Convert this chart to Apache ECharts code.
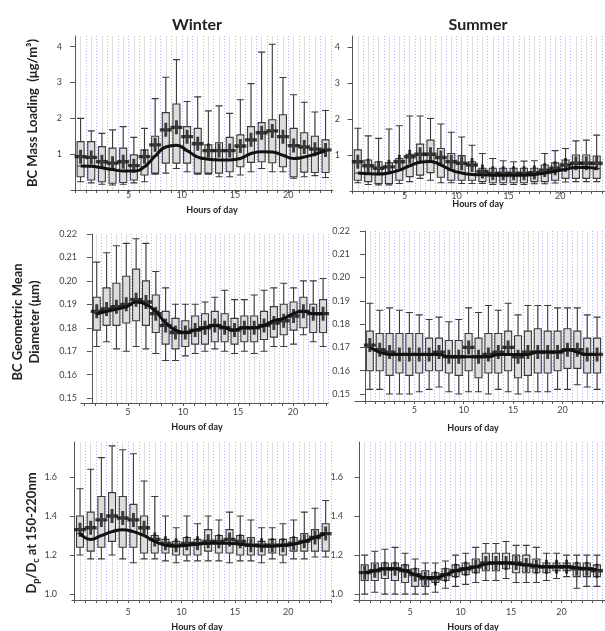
<!DOCTYPE html>
<html><head><meta charset="utf-8">
<script src="https://cdn.jsdelivr.net/npm/echarts@6/dist/echarts.min.js"></script>
<style>html,body{margin:0;padding:0;background:#fff}#c{width:605px;height:631px}</style>
</head><body><div id="c"></div>
<script>
// ---------- data ----------
const hours = [0.5,1.5,2.5,3.5,4.5,5.5,6.5,7.5,8.5,9.5,10.5,11.5,12.5,13.5,14.5,15.5,16.5,17.5,18.5,19.5,20.5,21.5,22.5,23.5];
const hourTicks = [0,1,2,3,4,5,6,7,8,9,10,11,12,13,14,15,16,17,18,19,20,21,22,23,24];
const hourLabels = [5,10,15,20];
const yTicksMass = [1,2,3,4];
const yTicksGmd = [0.15,0.16,0.17,0.18,0.19,0.20,0.21,0.22];
const yTicksRatio = [1.0,1.2,1.4,1.6];

// Winter BC mass loading
const wMassMax  = [2.0,1.65,1.58,1.68,1.77,1.47,1.72,2.55,3.15,3.64,2.47,2.6,2.21,2.35,2.14,2.52,2.97,3.85,4.07,3.14,2.66,2.45,2.18,2.22];
const wMassQ3   = [1.35,1.35,1.21,1.17,1.17,0.98,1.12,1.5,2.16,2.4,1.77,1.72,1.26,1.32,1.47,1.54,1.77,1.88,1.96,2.1,1.72,1.6,1.5,1.4];
const wMassMed  = [0.67,0.66,0.62,0.57,0.53,0.53,0.65,0.95,1.2,1.25,1.1,0.92,0.86,0.84,0.84,0.88,1.02,1.07,1.06,0.97,0.88,0.92,1.0,1.1];
const wMassQ1   = [0.37,0.28,0.23,0.19,0.21,0.28,0.42,0.47,0.75,0.75,0.75,0.47,0.47,0.47,0.51,0.65,0.77,0.79,0.76,0.65,0.37,0.5,0.49,0.49];
const wMassMin  = [0.23,0.2,0.16,0.14,0.16,0.2,0.23,0.44,0.47,0.6,0.51,0.44,0.44,0.37,0.37,0.42,0.51,0.6,0.51,0.51,0.33,0.37,0.4,0.35];
const wMassMean = [0.93,0.91,0.79,0.75,0.79,0.68,0.93,1.26,1.68,1.75,1.49,1.29,1.1,1.1,1.1,1.23,1.4,1.6,1.65,1.49,1.24,1.2,1.14,1.12];

// Summer BC mass loading
const sMassMax  = [1.74,1.53,1.46,1.72,1.81,2.08,2.08,2.01,1.86,1.63,1.5,1.27,1.04,0.9,0.84,0.81,0.83,0.84,1.04,1.12,1.18,1.39,1.41,1.55];
const sMassQ3   = [1.14,0.86,0.81,0.78,0.9,1.02,1.3,1.41,1.18,1.04,0.98,0.81,0.63,0.63,0.63,0.63,0.63,0.63,0.72,0.78,0.86,1.0,1.0,0.97];
const sMassMed  = [0.5,0.48,0.47,0.5,0.58,0.7,0.8,0.82,0.72,0.58,0.5,0.46,0.45,0.44,0.44,0.44,0.44,0.46,0.5,0.55,0.6,0.65,0.65,0.62];
const sMassQ1   = [0.3,0.26,0.21,0.21,0.3,0.4,0.44,0.51,0.38,0.3,0.3,0.3,0.26,0.23,0.23,0.23,0.23,0.26,0.26,0.3,0.35,0.35,0.35,0.35];
const sMassMin  = [0.23,0.18,0.17,0.17,0.21,0.26,0.35,0.3,0.23,0.23,0.21,0.21,0.21,0.18,0.18,0.18,0.18,0.2,0.2,0.22,0.25,0.26,0.26,0.26];
const sMassMean = [0.81,0.7,0.63,0.67,0.81,0.95,1.02,1.02,0.93,0.81,0.77,0.72,0.54,0.49,0.49,0.49,0.49,0.51,0.58,0.63,0.72,0.77,0.77,0.77];

// Winter BC geometric mean diameter (um)
const wGmdMax  = [0.208,0.212,0.215,0.216,0.218,0.216,0.204,0.197,0.19,0.19,0.19,0.191,0.193,0.196,0.192,0.192,0.194,0.196,0.197,0.199,0.197,0.2,0.2,0.201];
const wGmdQ3   = [0.193,0.197,0.199,0.202,0.205,0.2,0.194,0.187,0.184,0.183,0.185,0.186,0.187,0.186,0.184,0.185,0.185,0.187,0.189,0.19,0.191,0.193,0.19,0.192];
const wGmdMed  = [0.186,0.187,0.188,0.189,0.191,0.19,0.187,0.182,0.179,0.178,0.179,0.18,0.181,0.18,0.179,0.18,0.18,0.181,0.183,0.184,0.186,0.187,0.186,0.186];
const wGmdQ1   = [0.179,0.181,0.181,0.182,0.183,0.181,0.178,0.173,0.171,0.172,0.173,0.173,0.174,0.174,0.173,0.174,0.174,0.175,0.176,0.177,0.179,0.18,0.178,0.178];
const wGmdMin  = [0.172,0.174,0.171,0.17,0.172,0.171,0.169,0.166,0.166,0.168,0.169,0.17,0.171,0.17,0.169,0.17,0.169,0.17,0.172,0.172,0.173,0.177,0.174,0.172];
const wGmdMean = [0.187,0.188,0.189,0.19,0.192,0.191,0.186,0.181,0.178,0.178,0.179,0.18,0.181,0.18,0.179,0.18,0.18,0.181,0.182,0.183,0.185,0.187,0.186,0.186];

// Summer BC geometric mean diameter (um)
const sGmdMax  = [0.189,0.186,0.187,0.186,0.185,0.184,0.182,0.183,0.181,0.182,0.187,0.185,0.188,0.186,0.189,0.184,0.188,0.188,0.188,0.187,0.187,0.187,0.184,0.183];
const sGmdQ3   = [0.177,0.176,0.176,0.176,0.176,0.176,0.174,0.174,0.173,0.173,0.176,0.174,0.176,0.176,0.177,0.175,0.177,0.178,0.177,0.177,0.178,0.177,0.174,0.174];
const sGmdMed  = [0.17,0.168,0.167,0.167,0.167,0.167,0.167,0.167,0.166,0.166,0.166,0.166,0.166,0.167,0.167,0.167,0.167,0.168,0.168,0.168,0.169,0.168,0.167,0.167];
const sGmdQ1   = [0.16,0.16,0.158,0.159,0.158,0.159,0.16,0.16,0.159,0.158,0.16,0.157,0.159,0.159,0.16,0.157,0.158,0.159,0.159,0.16,0.161,0.161,0.159,0.159];
const sGmdMin  = [0.152,0.152,0.15,0.15,0.15,0.151,0.152,0.153,0.151,0.15,0.151,0.151,0.15,0.152,0.151,0.15,0.151,0.151,0.151,0.152,0.152,0.154,0.153,0.152];
const sGmdMean = [0.171,0.169,0.168,0.167,0.167,0.167,0.167,0.168,0.166,0.166,0.17,0.166,0.167,0.168,0.17,0.166,0.168,0.168,0.168,0.168,0.169,0.169,0.167,0.167];

// Winter Dp/Dc at 150-220 nm
const wRatMax  = [1.54,1.64,1.7,1.76,1.74,1.72,1.58,1.5,1.4,1.34,1.4,1.36,1.4,1.38,1.42,1.4,1.38,1.34,1.34,1.36,1.38,1.42,1.44,1.48];
const wRatQ3   = [1.4,1.42,1.5,1.52,1.5,1.46,1.4,1.3,1.28,1.27,1.29,1.28,1.33,1.3,1.33,1.3,1.29,1.27,1.28,1.28,1.29,1.31,1.33,1.36];
const wRatMed  = [1.31,1.28,1.3,1.32,1.33,1.32,1.3,1.27,1.25,1.245,1.25,1.255,1.26,1.26,1.26,1.255,1.25,1.245,1.245,1.25,1.255,1.27,1.29,1.31];
const wRatQ1   = [1.24,1.22,1.24,1.27,1.24,1.24,1.21,1.21,1.21,1.2,1.2,1.2,1.22,1.21,1.21,1.2,1.2,1.2,1.21,1.2,1.22,1.22,1.22,1.22];
const wRatMin  = [1.2,1.18,1.18,1.2,1.18,1.16,1.18,1.18,1.17,1.16,1.17,1.17,1.17,1.17,1.16,1.17,1.17,1.16,1.18,1.16,1.18,1.18,1.19,1.19];
const wRatMean = [1.33,1.34,1.38,1.4,1.39,1.38,1.34,1.28,1.26,1.25,1.26,1.26,1.27,1.27,1.28,1.27,1.25,1.25,1.25,1.25,1.26,1.27,1.29,1.31];

// Summer Dp/Dc at 150-220 nm
const sRatMax  = [1.2,1.22,1.23,1.24,1.21,1.18,1.16,1.16,1.17,1.2,1.21,1.24,1.26,1.26,1.27,1.25,1.25,1.24,1.21,1.21,1.2,1.2,1.2,1.2];
const sRatQ3   = [1.15,1.16,1.16,1.16,1.15,1.13,1.12,1.11,1.13,1.15,1.16,1.18,1.21,1.21,1.21,1.2,1.2,1.18,1.16,1.16,1.16,1.16,1.16,1.15];
const sRatMed  = [1.11,1.12,1.13,1.13,1.12,1.1,1.085,1.085,1.1,1.12,1.13,1.14,1.155,1.16,1.16,1.155,1.15,1.145,1.14,1.14,1.14,1.135,1.13,1.125];
const sRatQ1   = [1.07,1.07,1.08,1.07,1.06,1.04,1.04,1.06,1.07,1.09,1.1,1.11,1.12,1.12,1.13,1.11,1.11,1.11,1.11,1.12,1.12,1.09,1.09,1.09];
const sRatMin  = [1.0,1.01,1.0,1.0,1.0,1.0,1.0,1.01,1.03,1.04,1.05,1.06,1.07,1.07,1.08,1.06,1.06,1.06,1.07,1.08,1.09,1.03,1.04,1.04];
const sRatMean = [1.11,1.12,1.13,1.13,1.12,1.1,1.08,1.08,1.1,1.12,1.13,1.14,1.16,1.16,1.16,1.16,1.15,1.14,1.14,1.14,1.14,1.13,1.13,1.12];

// ---------- layout ----------
const panels = [
  {g:{left:71,top:36,width:262,height:154}, x:[-0.4,24.2], y:[0,4.3], yt:yTicksMass, fmt:v=>String(v), xm:1, ym:9,
   s:[wMassMin,wMassQ1,wMassMed,wMassQ3,wMassMax,wMassMean]},
  {g:{left:350,top:36,width:261,height:155}, x:[-0.25,24.3], y:[0,4.3], yt:yTicksMass, fmt:v=>String(v), xm:1, ym:10,
   s:[sMassMin,sMassQ1,sMassMed,sMassQ3,sMassMax,sMassMean]},
  {g:{left:81,top:234,width:247,height:169}, x:[-1.1,24.0], y:[0.1479,0.22], yt:yTicksGmd, fmt:v=>v.toFixed(2), xm:5, ym:4,
   lx:[0.73,23.18],
   s:[wGmdMin,wGmdQ1,wGmdMed,wGmdQ3,wGmdMax,wGmdMean]},
  {g:{left:355,top:231,width:249,height:170}, x:[-1.0,24.2], y:[0.147,0.22], yt:yTicksGmd, fmt:v=>v.toFixed(2), xm:5, ym:5,
   s:[sGmdMin,sGmdQ1,sGmdMed,sGmdQ3,sGmdMax,sGmdMean]},
  {g:{left:72,top:442,width:259,height:158}, x:[-0.25,24.0], y:[0.969,1.78], yt:yTicksRatio, fmt:v=>v.toFixed(1), xm:8, ym:15,
   s:[wRatMin,wRatQ1,wRatMed,wRatQ3,wRatMax,wRatMean]},
  {g:{left:354,top:442,width:266,height:158}, x:[-0.56,24.3], y:[0.97,1.78], yt:yTicksRatio, fmt:v=>v.toFixed(1), xm:8, ym:11,
   s:[sRatMin,sRatQ1,sRatMed,sRatQ3,sRatMax,sRatMean]}
];

const AX = '#555', LBL = '#444';
const grid = [], xAxis = [], yAxis = [], series = [];
panels.forEach((p, i) => {
  grid.push(Object.assign({containLabel:false}, p.g));
  const sep = !!p.lx;
  const main = xAxis.length;
  xAxis.push({type:'value', gridIndex:i, min:p.x[0], max:p.x[1], position:'bottom',
    axisLine:{show:true, onZero:false, lineStyle:{color:AX}},
    axisTick:{show:!sep, customValues:hourTicks, length:3, lineStyle:{color:AX}},
    axisLabel:{show:!sep, customValues:hourLabels, fontSize:9, color:LBL, margin:p.xm, fontFamily:'Lato'},
    splitLine:{show:true, lineStyle:{color:'#b4b4ee', width:1, type:[1,2]}}});
  xAxis.push({type:'value', gridIndex:i, min:p.x[0], max:p.x[1], position:'top',
    axisLine:{show:false}, axisTick:{show:false, customValues:hours}, axisLabel:{show:false},
    splitLine:{show:true, lineStyle:{color:'#dedede', width:1}}});
  if (sep) {
    xAxis.push({type:'value', gridIndex:i, min:p.lx[0], max:p.lx[1], position:'bottom',
      axisLine:{show:false},
      axisTick:{show:true, customValues:hourTicks, length:3, lineStyle:{color:AX}},
      axisLabel:{customValues:hourLabels, fontSize:9, color:LBL, margin:p.xm, fontFamily:'Lato'},
      splitLine:{show:false}});
  }
  yAxis.push({type:'value', gridIndex:i, min:p.y[0], max:p.y[1],
    axisLine:{show:true, lineStyle:{color:AX}},
    axisTick:{show:true, customValues:p.yt, length:5, lineStyle:{color:AX}},
    axisLabel:{customValues:p.yt, formatter:p.fmt, fontSize:9, color:LBL, margin:p.ym, fontFamily:'Lato'},
    splitLine:{show:false}});
  const [mn,q1,md,q3,mx,mean] = p.s;
  series.push({type:'boxplot', xAxisIndex:main, yAxisIndex:i, boxWidth:[7,7], z:2,
    itemStyle:{color:'#dcdcdc', borderColor:'#3a3a3a', borderWidth:1.1},
    data: hours.map((h,k)=>[h, mn[k], q1[k], md[k], q3[k], mx[k]])});
  series.push({type:'line', xAxisIndex:main, yAxisIndex:i, z:3, smooth:0.5, showSymbol:false,
    lineStyle:{color:'#111', width:3}, data: hours.map((h,k)=>[h, md[k]])});
  series.push({type:'scatter', xAxisIndex:main, yAxisIndex:i, z:4,
    symbol:'path://M3.8,0H6.2V3.8H10V6.2H6.2V10H3.8V6.2H0V3.8H3.8Z', symbolSize:[12,14],
    itemStyle:{color:'#111'}, data: hours.map((h,k)=>[h, mean[k]])});
});

const T = (x, y, text, size, extra) => Object.assign({type:'text', x, y, z:10,
  style:{text, fontSize:size, fontWeight:'bold', fontFamily:'Lato', fill:'#222', align:'center', verticalAlign:'middle'}}, extra||{});

const graphic = [
  T(197, 25, 'Winter', 16),
  T(478, 25, 'Summer', 16),
  T(33, 113, 'BC Mass Loading  (\u03bcg/m\u00b3)', 13, {rotation:Math.PI/2}),
  T(18, 322, 'BC Geometric Mean', 13, {rotation:Math.PI/2}),
  T(35, 322, 'Diameter (\u03bcm)', 13, {rotation:Math.PI/2}),
  {type:'text', x:32, y:533, z:10, rotation:Math.PI/2,
   style:{text:'D{s|p}/D{s|c} at 150-220nm', fontSize:13, fontWeight:'bold', fontFamily:'Lato', fill:'#222',
     align:'center', verticalAlign:'middle',
     rich:{s:{fontSize:9, fontWeight:'bold', fontFamily:'Lato', fill:'#222', verticalAlign:'bottom', lineHeight:18}}}},
  T(212, 210, 'Hours of day', 9),
  T(478, 204, 'Hours of day', 9),
  T(197, 427, 'Hours of day', 9),
  T(473, 428, 'Hours of day', 9),
  T(197, 627, 'Hours of day', 9),
  T(473, 627, 'Hours of day', 9)
];

const chart = echarts.init(document.getElementById('c'), null, {renderer:'canvas'});
chart.setOption({animation:false, backgroundColor:'#fff', grid, xAxis, yAxis, series, graphic});
</script></body></html>
